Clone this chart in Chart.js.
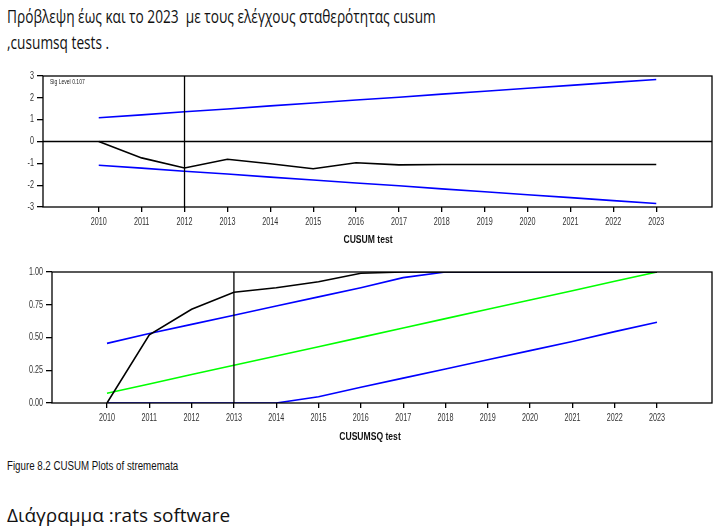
<!DOCTYPE html>
<html>
<head>
<meta charset="utf-8">
<script src="https://cdn.jsdelivr.net/npm/chart.js@4.4.1/dist/chart.umd.min.js"></script>
<style>
  body { margin: 0; background: #fff; width: 721px; height: 526px; position: relative; overflow: hidden; }
  .txt { position: absolute; left: 7px; color: #111; white-space: nowrap; transform-origin: 0 0; }
  .head { font-family: "Open Sans", sans-serif; font-size: 18px; transform: scaleX(0.76); }
  .fig { font-family: "Liberation Sans", sans-serif; font-size: 12px; top: 459px; transform: scaleX(0.81); }
  .axt { position: absolute; font-family: "Liberation Sans", sans-serif; font-weight: bold; font-size: 11px;
         color: #111; white-space: nowrap; transform: translateX(-50%) scaleX(0.78); }
  .box { position: absolute; left: 0; width: 721px; }
</style>
</head>
<body>
<div class="txt head" style="top:4px">Πρόβλεψη έως και το 2023&nbsp; με τους ελέγχους σταθερότητας cusum</div>
<div class="txt head" style="top:30px">,cusumsq tests .</div>
<div class="box" style="top:60px;height:195px"><canvas id="cusum-chart"></canvas></div>
<div class="box" style="top:255px;height:195px"><canvas id="cusumsq-chart"></canvas></div>
<div class="axt" style="left:368px;top:233px">CUSUM test</div>
<div class="axt" style="left:370px;top:430px">CUSUMSQ test</div>
<div class="txt fig">Figure 8.2 CUSUM Plots of strememata</div>
<div class="txt" style="top:502px;font-family:'Open Sans',sans-serif;font-size:19px">Διάγραμμα :rats software</div>

<script>
const YEARS = [2010, 2011, 2012, 2013, 2014, 2015, 2016, 2017, 2018, 2019, 2020, 2021, 2022, 2023];
const X_MIN = 2008.7;
const X_MAX = 2024.3;

// CUSUM panel
const CUSUM = [0, -0.75, -1.21, -0.81, -1.02, -1.25, -0.97, -1.07, -1.05, -1.05, -1.05, -1.05, -1.05, -1.05];
const CUSUM_UPPER = [1.09, 1.22, 1.36, 1.49, 1.63, 1.76, 1.90, 2.03, 2.17, 2.30, 2.44, 2.57, 2.71, 2.84];
const CUSUM_LOWER = [-1.09, -1.22, -1.36, -1.49, -1.63, -1.76, -1.90, -2.03, -2.17, -2.30, -2.44, -2.57, -2.71, -2.84];
const CUSUM_TICKS = [-3, -2, -1, 0, 1, 2, 3];
const CUSUM_MARK_YEAR = 2012;

// CUSUMSQ panel
const CUSUMSQ = [0, 0.52, 0.715, 0.845, 0.88, 0.925, 0.99, 1, 1, 1, 1, 1, 1, 1];
const SQ_EXPECTED = [0.074, 0.145, 0.217, 0.288, 0.359, 0.43, 0.501, 0.572, 0.644, 0.715, 0.786, 0.857, 0.929, 1];
const SQ_UPPER = [0.455, 0.53, 0.60, 0.67, 0.74, 0.81, 0.88, 0.957, 1, 1, 1, 1, 1, 1];
const SQ_LOWER = [0, 0, 0, 0, 0, 0.048, 0.12, 0.19, 0.26, 0.33, 0.40, 0.47, 0.545, 0.616];
const SQ_TICKS = [0, 0.25, 0.5, 0.75, 1];
const SQ_MARK_YEAR = 2013;

const FONT = "'Liberation Sans', sans-serif";
const BLUE = "#0000ff";
const GREEN = "#00ff00";
const NARROW = 0.72;

const pts = (vals) => YEARS.map((y, i) => ({ x: y, y: vals[i] }));

const line = (data, color, width) => ({
  data: data,
  borderColor: color,
  borderWidth: width,
  pointRadius: 0,
  tension: 0,
  fill: false,
});

// narrow text, RATS uses Arial Narrow for the labels
const narrowText = (ctx, text, x, y, align) => {
  ctx.save();
  ctx.translate(x, y);
  ctx.scale(NARROW, 1);
  ctx.textAlign = align;
  ctx.fillText(text, 0, 0);
  ctx.restore();
};

const framePlugin = (yFormat, sig) => ({
  id: "frame",
  afterDraw(chart) {
    const a = chart.chartArea;
    const ctx = chart.ctx;
    ctx.save();
    ctx.strokeStyle = "#000";
    ctx.lineWidth = 1.3;
    ctx.strokeRect(a.left, a.top, a.right - a.left, a.bottom - a.top);

    ctx.fillStyle = "#333";
    ctx.font = "10px " + FONT;
    ctx.textBaseline = "middle";
    const xs = chart.scales.x;
    xs.ticks.forEach((t) => {
      narrowText(ctx, String(t.value), xs.getPixelForValue(t.value), a.bottom + 15, "center");
    });
    const ys = chart.scales.y;
    ys.ticks.forEach((t) => {
      narrowText(ctx, yFormat(t.value), a.left - 9, ys.getPixelForValue(t.value), "right");
    });

    if (sig) {
      ctx.font = "7px " + FONT;
      ctx.fillStyle = "#222";
      ctx.textBaseline = "top";
      narrowText(ctx, sig, a.left + 7, a.top + 3, "left");
    }
    ctx.restore();
  },
});

const makeChart = (el, cfg) => {
  new Chart(el, {
    type: "line",
    data: { datasets: cfg.datasets },
    options: {
      responsive: true,
      maintainAspectRatio: false,
      animation: false,
      layout: { padding: { top: cfg.padTop, right: 9, left: 0, bottom: 0 } },
      plugins: {
        legend: { display: false },
        tooltip: { enabled: false },
      },
      scales: {
        x: {
          type: "linear",
          min: X_MIN,
          max: X_MAX,
          afterBuildTicks: (s) => { s.ticks = YEARS.map((v) => ({ value: v })); },
          afterFit: (s) => { s.height = cfg.xHeight; },
          grid: { drawOnChartArea: false, drawTicks: true, tickLength: 5, color: "#000", lineWidth: 1.3 },
          border: { display: false },
          ticks: { display: false, autoSkip: false },
        },
        y: {
          min: cfg.yMin,
          max: cfg.yMax,
          afterBuildTicks: (s) => { s.ticks = cfg.yTicks.map((v) => ({ value: v })); },
          afterFit: (s) => { s.width = cfg.yWidth; },
          grid: { drawOnChartArea: false, drawTicks: true, tickLength: 6, color: "#000", lineWidth: 1.3 },
          border: { display: false },
          ticks: { display: false },
        },
      },
    },
    plugins: [framePlugin(cfg.yFormat, cfg.sig)],
  });
};

makeChart(document.getElementById("cusum-chart"), {
  datasets: [
    line([{ x: X_MIN, y: 0 }, { x: X_MAX, y: 0 }], "#000", 1.3),
    line([{ x: CUSUM_MARK_YEAR, y: -3 }, { x: CUSUM_MARK_YEAR, y: 3 }], "#000", 1.3),
    line(pts(CUSUM_UPPER), BLUE, 1.6),
    line(pts(CUSUM_LOWER), BLUE, 1.6),
    line(pts(CUSUM), "#000", 1.6),
  ],
  padTop: 16,
  xHeight: 48,
  yWidth: 43,
  yMin: -3,
  yMax: 3,
  yTicks: CUSUM_TICKS,
  yFormat: (v) => String(v),
  sig: "Sig Level 0.107",
});

makeChart(document.getElementById("cusumsq-chart"), {
  datasets: [
    line([{ x: SQ_MARK_YEAR, y: 0 }, { x: SQ_MARK_YEAR, y: 1 }], "#000", 1.3),
    line(pts(CUSUMSQ), "#000", 1.6),
    line(pts(SQ_EXPECTED), GREEN, 1.6),
    line(pts(SQ_LOWER), BLUE, 1.6),
    line(pts(SQ_UPPER), BLUE, 1.6),
  ],
  padTop: 17,
  xHeight: 47,
  yWidth: 52,
  yMin: 0,
  yMax: 1,
  yTicks: SQ_TICKS,
  yFormat: (v) => v.toFixed(2),
  sig: null,
});
</script>
</body>
</html>
